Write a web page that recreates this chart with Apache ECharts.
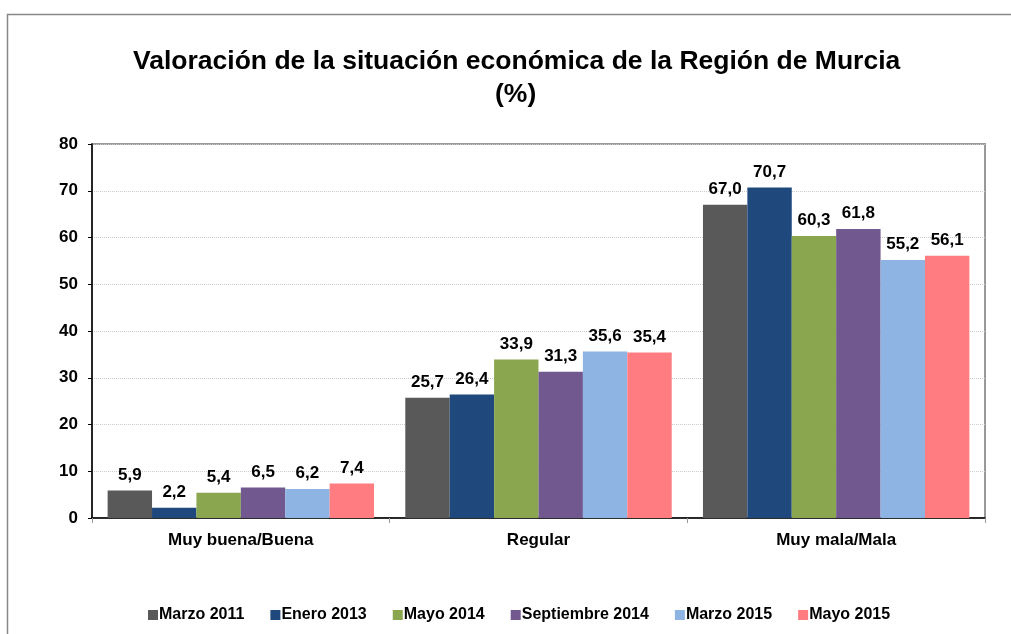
<!DOCTYPE html>
<html>
<head>
<meta charset="utf-8">
<script src="https://cdn.jsdelivr.net/npm/echarts@6/dist/echarts.min.js"></script>
<style>
  html, body { margin: 0; padding: 0; background: #fff; }
  #chart { width: 1011px; height: 634px; }
</style>
</head>
<body>
<div id="chart"></div>
<script>
var categories = ["Muy buena/Buena", "Regular", "Muy mala/Mala"];
var seriesNames = ["Marzo 2011", "Enero 2013", "Mayo 2014", "Septiembre 2014", "Marzo 2015", "Mayo 2015"];
var marzo2011 = [5.9, 25.7, 67.0];
var enero2013 = [2.2, 26.4, 70.7];
var mayo2014 = [5.4, 33.9, 60.3];
var sept2014 = [6.5, 31.3, 61.8];
var marzo2015 = [6.2, 35.6, 55.2];
var mayo2015 = [7.4, 35.4, 56.1];
var colors = ["#595959", "#1F497D", "#8AA64E", "#71588F", "#8EB4E3", "#FF7C80"];

var chartDom = document.getElementById("chart");
var myChart = echarts.init(chartDom);

var font = "'Liberation Sans', Arial, sans-serif";
var allValues = [marzo2011, enero2013, mayo2014, sept2014, marzo2015, mayo2015];

var series = allValues.map(function (vals, i) {
    return {
        name: seriesNames[i],
        type: "bar",
        data: vals,
        barGap: "0%",
        barCategoryGap: "10.5%",
        itemStyle: { color: colors[i] },
        label: {
            show: true,
            position: "top",
            distance: 7,
            color: "#000",
            fontFamily: font,
            fontSize: 17,
            fontWeight: "bold",
            formatter: function (p) {
                return p.value.toFixed(1).replace(".", ",");
            }
        }
    };
});

var titleStyle = {
    fontFamily: font,
    fontSize: 26.5,
    fontWeight: "bold",
    color: "#000"
};

var option = {
    animation: false,
    textStyle: { fontFamily: font },
    title: [
        {
            text: "Valoración de la situación económica de la Región de Murcia",
            left: 128,
            top: 43,
            textStyle: titleStyle
        },
        {
            text: "(%)",
            left: 490,
            top: 76,
            textStyle: titleStyle
        }
    ],
    graphic: [
        {
            type: "rect",
            shape: { x: 7.5, y: 14.5, width: 1200, height: 800 },
            style: { fill: "none", stroke: "#888", lineWidth: 1.5 },
            silent: true
        }
    ],
    legend: {
        bottom: 6,
        left: 143,
        itemWidth: 10,
        itemHeight: 10,
        itemGap: 26,
        icon: "rect",
        textStyle: {
            fontFamily: font,
            fontSize: 16,
            fontWeight: "bold",
            color: "#000",
            padding: [0, 0, 0, -4]
        },
        data: seriesNames
    },
    grid: {
        left: 92,
        right: 26,
        top: 144,
        bottom: 116,
        show: true,
        borderColor: "#999",
        borderWidth: 2
    },
    xAxis: {
        type: "category",
        data: categories,
        axisLine: { lineStyle: { color: "#000", width: 1.5 } },
        axisTick: { show: true, length: 5, lineStyle: { color: "#999" } },
        axisLabel: {
            color: "#000",
            fontFamily: font,
            fontSize: 17,
            fontWeight: "bold",
            margin: 14
        }
    },
    yAxis: {
        type: "value",
        min: 0,
        max: 80,
        interval: 10,
        axisLine: { show: true, lineStyle: { color: "#000", width: 1.5 } },
        axisTick: { show: true, length: 4, lineStyle: { color: "#000" } },
        axisLabel: {
            color: "#000",
            fontFamily: font,
            fontSize: 17,
            fontWeight: "bold",
            margin: 14
        },
        splitLine: { lineStyle: { color: "#ccc", type: "dotted" } }
    },
    series: series
};

myChart.setOption(option);
</script>
</body>
</html>
